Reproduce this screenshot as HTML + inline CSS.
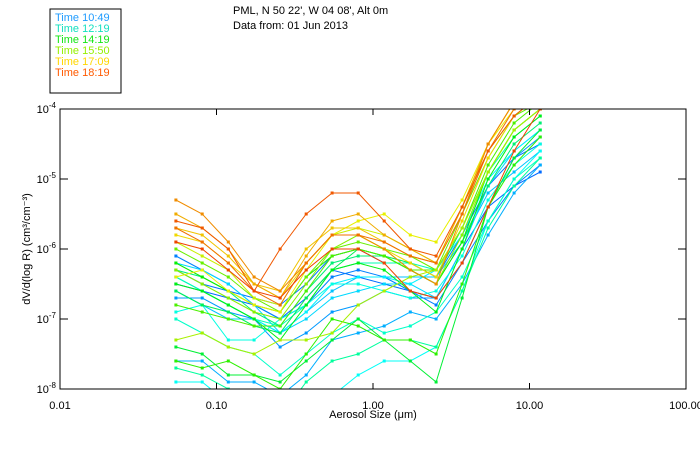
<!DOCTYPE html>
<html><head><meta charset="utf-8">
<style>
html,body{margin:0;padding:0;background:#fff;}
svg{display:block;font-family:"Liberation Sans",sans-serif;}
</style></head>
<body>
<svg id="chart" width="700" height="450" viewBox="0 0 700 450" xmlns="http://www.w3.org/2000/svg">
  <rect x="50" y="9" width="71" height="84" fill="#fff" stroke="#000" stroke-width="1"/>
  <g font-size="11">
    <text x="55" y="21" fill="#1e9bff">Time 10:49</text>
    <text x="55" y="32" fill="#14e0c0">Time 12:19</text>
    <text x="55" y="43" fill="#14e614">Time 14:19</text>
    <text x="55" y="54" fill="#96f000">Time 15:50</text>
    <text x="55" y="65" fill="#ffd700">Time 17:09</text>
    <text x="55" y="76" fill="#ff5a00">Time 18:19</text>
  </g>
  <text x="233" y="14" font-size="11">PML, N 50 22', W 04 08', Alt 0m</text>
  <text x="233" y="29" font-size="11">Data from: 01 Jun 2013</text>
  <defs><clipPath id="plotclip"><rect x="60" y="109" width="626" height="280"/></clipPath></defs>
  <g id="series" clip-path="url(#plotclip)"></g>
  <rect x="60" y="109" width="626" height="280" fill="none" stroke="#000" stroke-width="1"/>
  <g id="axes" font-size="11"></g>
  <text x="373" y="418" font-size="11" text-anchor="middle">Aerosol Size (μm)</text>
  <text transform="translate(30,249) rotate(-90)" font-size="11" text-anchor="middle">dV/d(log R) (cm³/cm⁻³)</text>
</svg>
<script>
const sizes = [0.055,0.081,0.119,0.174,0.255,0.374,0.548,0.804,1.18,1.73,2.53,3.71,5.44,7.97,11.7];
const times = [10.8,10.9,11.0,11.2,11.4,11.6,11.8,12.0,12.2,12.4,12.6,12.8,13.0,13.3,13.6,13.9,14.2,14.5,14.8,15.1,15.4,15.7,16.0,16.3,16.6,16.9,17.1,17.3,17.6,17.9,18.1,18.3];
const s0 = [-6.5,-6.6,-6.7,-6.8,-7.0,-6.7,-6.3,-6.4,-6.5,-6.6,-6.7,-6.0,-5.4,-5.1,-4.9];
const s1 = [-6.3,-6.5,-6.6,-6.7,-6.8,-6.5,-6.1,-6.0,-6.2,-6.2,-6.4,-5.8,-5.1,-4.7,-4.5];
const s2 = [-6.1,-6.3,-6.5,-6.8,-7.0,-6.8,-6.4,-6.3,-6.4,-6.6,-6.8,-6.2,-5.6,-5.1,-4.8];
const s3 = [-6.7,-6.7,-6.9,-7.0,-7.4,-7.2,-6.9,-6.8,-6.6,-6.7,-6.7,-6.2,-5.4,-4.7,-4.4];
const s4 = [-7.6,-7.6,-7.9,-7.9,-8.1,-7.8,-7.3,-7.2,-7.1,-6.9,-7.0,-6.5,-5.8,-5.2,-4.8];
const s5 = [-6.6,-6.8,-7.0,-7.0,-7.2,-6.9,-6.6,-6.4,-6.4,-6.4,-6.4,-5.9,-5.2,-4.9,-4.6];
const s6 = [-6.2,-6.3,-6.5,-6.8,-7.2,-7.0,-6.7,-6.6,-6.5,-6.5,-6.7,-6.0,-5.1,-4.6,-4.3];
const s7 = [-6.4,-6.6,-6.8,-7.0,-7.2,-6.9,-6.5,-6.4,-6.4,-6.5,-6.3,-5.8,-5.0,-4.6,-4.3];
const s8 = [-7.9,-7.9,-8.2,-8.4,-8.5,-8.3,-8.1,-7.8,-7.6,-7.6,-7.4,-6.6,-5.6,-5.0,-4.6];
const s9 = [-6.9,-6.8,-7.3,-7.3,-7.0,-6.8,-6.5,-6.5,-6.6,-6.7,-6.6,-6.1,-5.3,-4.8,-4.5];
const s10 = [-7.0,-7.2,-7.4,-7.5,-7.8,-7.5,-7.2,-7.0,-7.2,-7.1,-6.9,-6.4,-5.6,-5.0,-4.7];
const s11 = [-6.4,-6.6,-6.8,-7.0,-7.1,-6.8,-6.3,-6.2,-6.2,-6.2,-6.3,-5.7,-4.9,-4.4,-4.1];
const s12 = [-7.7,-7.8,-8.0,-8.1,-8.4,-7.9,-7.6,-7.5,-7.3,-7.3,-7.4,-6.6,-5.7,-5.1,-4.7];
const s13 = [-6.3,-6.4,-6.6,-6.9,-7.1,-6.6,-6.2,-6.1,-6.1,-6.3,-6.5,-5.9,-5.1,-4.5,-4.2];
const s14 = [-6.6,-6.8,-6.9,-7.1,-7.2,-6.7,-6.3,-6.0,-6.1,-6.2,-6.4,-5.7,-4.9,-4.3,-4.0];
const s15 = [-7.4,-7.5,-7.8,-7.8,-7.9,-7.6,-7.3,-7.0,-7.3,-7.6,-7.9,-6.7,-5.4,-4.7,-4.3];
const s16 = [-6.5,-6.6,-6.8,-7.0,-7.3,-6.8,-6.3,-6.2,-6.3,-6.6,-6.9,-6.0,-5.0,-4.4,-4.1];
const s17 = [-6.2,-6.4,-6.6,-6.8,-6.9,-6.4,-6.1,-6.0,-6.1,-6.3,-6.5,-5.9,-4.9,-4.3,-4.0];
const s18 = [-7.6,-7.7,-7.6,-7.8,-8.0,-7.5,-7.0,-7.1,-7.3,-7.3,-7.5,-6.5,-5.4,-4.8,-4.4];
const s19 = [-6.8,-6.9,-7.0,-7.1,-7.1,-6.6,-6.1,-6.0,-6.1,-6.3,-6.3,-5.7,-4.8,-4.2,-3.9];
const s20 = [-6.0,-6.2,-6.4,-6.7,-6.9,-6.4,-6.0,-5.9,-6.0,-6.1,-6.3,-5.5,-4.7,-4.1,-3.9];
const s21 = [-6.3,-6.5,-6.7,-6.9,-7.0,-6.5,-6.0,-5.8,-6.0,-6.3,-6.5,-5.8,-4.9,-4.3,-4.0];
const s22 = [-7.3,-7.2,-7.4,-7.5,-7.3,-7.3,-7.2,-6.8,-6.6,-6.4,-6.3,-5.7,-4.9,-4.3,-4.0];
const s23 = [-5.9,-6.1,-6.3,-6.7,-6.8,-6.2,-5.8,-5.7,-5.8,-6.0,-6.2,-5.4,-4.6,-4.1,-3.8];
const s24 = [-6.4,-6.3,-6.6,-6.8,-6.9,-6.3,-5.8,-5.6,-5.5,-5.8,-5.9,-5.3,-4.5,-4.0,-3.8];
const s25 = [-5.8,-5.9,-6.2,-6.5,-6.7,-6.2,-5.8,-5.8,-6.0,-6.2,-6.4,-5.6,-4.7,-4.1,-3.8];
const s26 = [-5.7,-5.8,-6.1,-6.5,-6.6,-6.0,-5.7,-5.7,-5.9,-6.1,-6.2,-5.4,-4.5,-3.9,-3.7];
const s27 = [-5.5,-5.7,-6.0,-6.5,-6.7,-6.1,-5.6,-5.5,-5.8,-6.0,-6.2,-5.4,-4.5,-3.9,-3.7];
const s28 = [-5.3,-5.5,-5.9,-6.4,-6.6,-6.2,-5.8,-5.8,-6.0,-6.3,-6.5,-5.5,-4.5,-3.9,-3.7];
const s29 = [-5.7,-5.9,-6.2,-6.6,-6.8,-6.2,-5.8,-5.8,-5.9,-6.1,-6.2,-5.5,-4.6,-4.0,-3.7];
const s30 = [-5.6,-5.7,-6.0,-6.6,-6.0,-5.5,-5.2,-5.2,-5.6,-6.0,-6.1,-5.4,-4.6,-4.1,-3.8];
const s31 = [-5.9,-6.0,-6.3,-6.6,-6.7,-6.3,-6.0,-6.0,-6.2,-6.6,-6.7,-6.2,-5.4,-4.6,-4.0];
const series = [s0,s1,s2,s3,s4,s5,s6,s7,s8,s9,s10,s11,s12,s13,s14,s15,s16,s17,s18,s19,s20,s21,s22,s23,s24,s25,s26,s27,s28,s29,s30,s31];
const xTickVals = [0.01,0.1,1,10,100];
const xTickLabels = ["0.01","0.10","1.00","10.00","100.00"];
const yTickExps = [-4,-5,-6,-7,-8];

const X0=60, X1=686, Y0=109, Y1=389, XMIN=-2, XMAX=2, YMIN=-8, YMAX=-4;
function xScale(v){return X0+(Math.log10(v)-XMIN)/(XMAX-XMIN)*(X1-X0);}
function yScale(e){return Y1-(e-YMIN)/(YMAX-YMIN)*(Y1-Y0);}
function color(t){
  const f=Math.max(0,Math.min(1,(t-10.8)/(18.3-10.8)));
  const hue=215-f*198;
  return 'hsl('+hue.toFixed(0)+',100%,'+(hue>150?'50%':'47%')+')';
}
const NS='http://www.w3.org/2000/svg';
const g=document.getElementById('series');
series.forEach((vals,i)=>{
  const c=color(times[i]);
  const pts=vals.map((v,k)=>xScale(sizes[k]).toFixed(1)+','+yScale(v).toFixed(1)).join(' ');
  const pl=document.createElementNS(NS,'polyline');
  
  
  pl.setAttribute('points',pts);
  pl.setAttribute('fill','none');pl.setAttribute('stroke',c);pl.setAttribute('stroke-width','1');
  g.appendChild(pl);
  vals.forEach((v,k)=>{
    const r=document.createElementNS(NS,'rect');
    
    
    r.setAttribute('x',(xScale(sizes[k])-1.5).toFixed(1));
    r.setAttribute('y',(yScale(v)-1.5).toFixed(1));
    r.setAttribute('width','3');r.setAttribute('height','3');r.setAttribute('fill',c);
    g.appendChild(r);
  });
});
const ax=document.getElementById('axes');
xTickVals.forEach((v,i)=>{
  const x=xScale(v);
  [[Y1,Y1-6],[Y0,Y0+6]].forEach(p=>{
    const l=document.createElementNS(NS,'line');
    
    
    l.setAttribute('x1',x);l.setAttribute('x2',x);l.setAttribute('y1',p[0]);l.setAttribute('y2',p[1]);l.setAttribute('stroke','#000');
    ax.appendChild(l);
  });
  const t=document.createElementNS(NS,'text');
  
  
  t.setAttribute('x',x);t.setAttribute('y',Y1+20);t.setAttribute('text-anchor','middle');
  t.textContent=xTickLabels[i];
  ax.appendChild(t);
});
yTickExps.forEach(e=>{
  const y=yScale(e);
  [[X0,X0+8],[X1,X1-8]].forEach(p=>{
    const l=document.createElementNS(NS,'line');
    
    
    l.setAttribute('x1',p[0]);l.setAttribute('x2',p[1]);l.setAttribute('y1',y);l.setAttribute('y2',y);l.setAttribute('stroke','#000');
    ax.appendChild(l);
  });
  const t=document.createElementNS(NS,'text');
  
  
  t.setAttribute('x',X0-4);t.setAttribute('y',y+4);t.setAttribute('text-anchor','end');
  t.innerHTML='10<tspan font-size="8" dy="-5">'+e+'</tspan>';
  ax.appendChild(t);
});
</script>
</body></html>
